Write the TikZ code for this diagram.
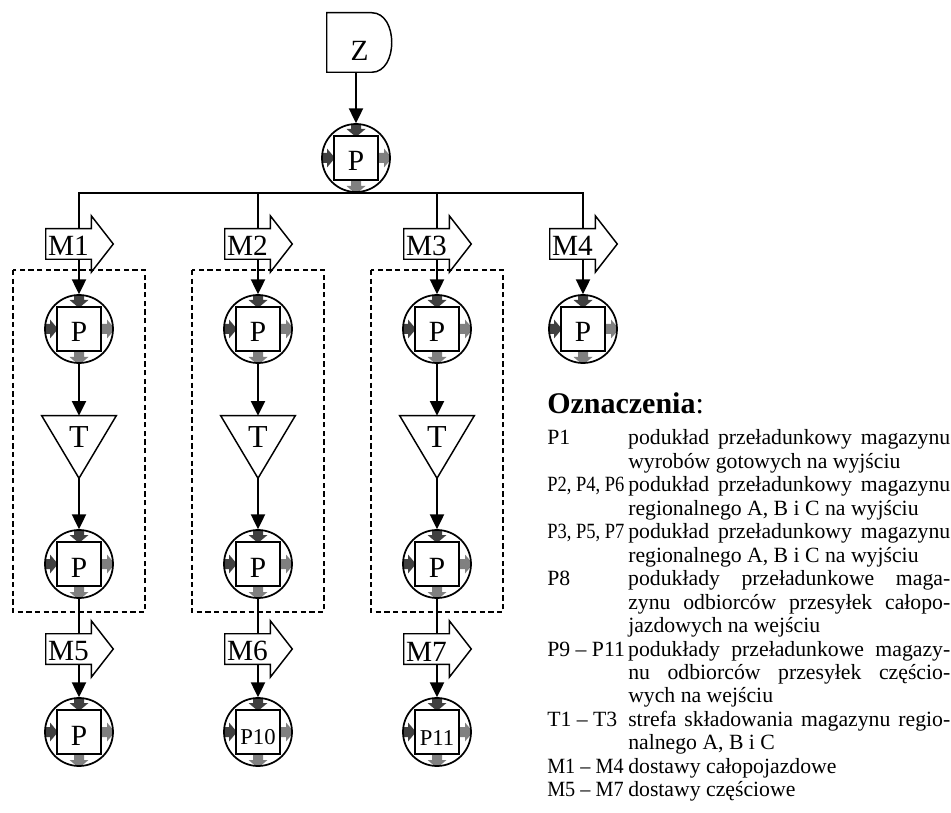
\documentclass[tikz,border=0pt]{standalone}
\usepackage{graphicx}
\usepackage{fontspec}
\setmainfont{Liberation Serif}
\usetikzlibrary{arrows.meta}
\definecolor{ingray}{RGB}{64,64,64}
\definecolor{outgray}{RGB}{128,128,128}
\newcommand{\bigfont}{\fontsize{22}{22}\selectfont}
\newcommand{\tfont}{\fontsize{24}{24}\selectfont}
\newcommand{\psmall}{\fontsize{17}{17}\selectfont}
\newcommand{\legfont}{\fontsize{16.3}{17.6}\selectfont}
\newcommand{\legkey}[1]{\makebox[60.75pt][l]{#1}}
\newcommand{\legline}[1]{\makebox[241.5pt][s]{#1}}

\tikzset{
  outline/.style={line width=1.1pt, line join=miter},
  flow/.style={line width=1.4pt, -{Triangle[width=10.5pt,length=11pt]}},
  bus/.style={line width=1pt},
  punkt/.style={circle, draw, line width=1.3pt, minimum size=51pt, inner sep=0pt,
    font=\bigfont, text height=19.5pt,
    path picture={
      \coordinate (c) at (path picture bounding box.center);
      % inputs
      \fill[ingray] ([shift={(-5,-40)}]c) -- ([shift={(5,-40)}]c) -- ([shift={(5,-29)}]c) -- ([shift={(9.5,-29)}]c)
        -- ([shift={(0,-21)}]c) -- ([shift={(-9.5,-29)}]c) -- ([shift={(-5,-29)}]c) -- cycle;
      \fill[ingray] ([shift={(-40,-5)}]c) -- ([shift={(-40,5)}]c) -- ([shift={(-29,5)}]c) -- ([shift={(-29,9.5)}]c)
        -- ([shift={(-21,0)}]c) -- ([shift={(-29,-9.5)}]c) -- ([shift={(-29,-5)}]c) -- cycle;
      % outputs
      \fill[outgray] ([shift={(22,-5)}]c) -- ([shift={(28,-5)}]c) -- ([shift={(28,-9.5)}]c) -- ([shift={(36,0)}]c)
        -- ([shift={(28,9.5)}]c) -- ([shift={(28,5)}]c) -- ([shift={(22,5)}]c) -- cycle;
      \fill[outgray] ([shift={(-5,22)}]c) -- ([shift={(-5,28)}]c) -- ([shift={(-9.5,28)}]c) -- ([shift={(0,36)}]c)
        -- ([shift={(9.5,28)}]c) -- ([shift={(5,28)}]c) -- ([shift={(5,22)}]c) -- cycle;
      \draw[line width=1.1pt] ([shift={(-22,-22)}]c) rectangle ([shift={(22,22)}]c);
    }},
  marrow/.style={rectangle, minimum width=33.75pt, minimum height=22.5pt, inner sep=0pt,
    font=\bigfont, text height=18pt},
  magaz/.style={rectangle, minimum width=55.5pt, minimum height=46.5pt, inner sep=0pt,
    font=\tfont, text height=15pt, text depth=15pt},
  zrodlo/.style={rectangle, minimum width=48.75pt, minimum height=44.25pt, inner sep=0pt,
    font=\bigfont, text height=27pt},
}

\begin{document}
\begin{tikzpicture}[x=0.75pt, y=-0.75pt]
\useasboundingbox (0,0) rectangle (951,813);

% Source and first transfer point
\node[zrodlo] (z) at (359.5,42.5) {Z};
\draw[outline] (z.north west) -- ++(45,0) .. controls +(26.7,0) and +(26.7,0) .. ([xshift=33.75pt]z.south west)
  -- (z.south west) -- cycle;
\node[punkt] (p0) at (356,158) {P};
\draw[flow] (p0 |- z.south) -- (p0);

% Regional warehouses
\foreach \i/\x/\mt/\mb/\pl in {1/79/M1/M5/P, 2/258/M2/M6/{\psmall P10}, 3/437/M3/M7/{\psmall P11}} {
    \draw[dashed, line width=0.8pt, dash pattern=on 4pt off 2.5pt] (\x-66,270) rectangle (\x+66,612);
    \node[marrow] (mt\i) at (\x-10.5,244) {\mt};
    \node[punkt] (pa\i) at (\x,329) {P};
    \node[magaz] (t\i) at (\x,447) {T};
    \node[punkt] (pb\i) at (\x,564) {P};
    \node[marrow] (mb\i) at (\x-10.5,649) {\mb};
    \node[punkt] (pc\i) at (\x,732) {\pl};
    \draw[outline] (mt\i.south west) -- (mt\i.north west) -- (mt\i.north east) -- ++(0,-13)
      -- ([xshift=16.5pt]mt\i.east) -- ([yshift=-9.75pt]mt\i.south east) -- (mt\i.south east) -- cycle;
    \draw[outline] (mb\i.south west) -- (mb\i.north west) -- (mb\i.north east) -- ++(0,-13)
      -- ([xshift=16.5pt]mb\i.east) -- ([yshift=-9.75pt]mb\i.south east) -- (mb\i.south east) -- cycle;
    \draw[outline] (t\i.north west) -- (t\i.north east) -- (t\i.south) -- cycle;
    \draw[bus] (p0.south) -| (mt\i.north -| pa\i);
    \draw[flow] (mt\i.south -| pa\i) -- (pa\i);
    \draw[flow] (pa\i) -- (t\i.north);
    \draw[flow] (t\i.south) -- (pb\i);
    \draw[outline] (pb\i) -- (mb\i.north -| pb\i);
    \draw[flow] (mb\i.south -| pc\i) -- (pc\i);
}

% Direct delivery
\node[marrow] (mt4) at (572.5,244) {M4};
\node[punkt] (pa4) at (583,329) {P};
\draw[outline] (mt4.south west) -- (mt4.north west) -- (mt4.north east) -- ++(0,-13)
  -- ([xshift=16.5pt]mt4.east) -- ([yshift=-9.75pt]mt4.south east) -- (mt4.south east) -- cycle;
\draw[bus] (p0.south) -| (mt4.north -| pa4);
\draw[flow] (mt4.south -| pa4) -- (pa4);

% Legend
\node[anchor=base west, inner sep=0pt, font=\fontsize{22.5}{24}\selectfont] (ozn) at (547,413) {\textbf{Oznaczenia}:};
\node[anchor=north west, inner sep=0pt, align=left, font=\legfont] (leg) at (547,429.5) {%
\legkey{P1}\legline{podukład przeładunkowy magazynu}\\
\legkey{}wyrobów gotowych na wyjściu\\
\legkey{\scalebox{0.85}[1]{P2, P4, P6}}\legline{podukład przeładunkowy magazynu}\\
\legkey{}regionalnego A, B i C na wyjściu\\
\legkey{\scalebox{0.85}[1]{P3, P5, P7}}\legline{podukład przeładunkowy magazynu}\\
\legkey{}regionalnego A, B i C na wyjściu\\
\legkey{P8}\legline{podukłady przeładunkowe maga-}\\
\legkey{}\legline{zynu odbiorców przesyłek całopo-}\\
\legkey{}jazdowych na wejściu\\
\legkey{P9 – P11}\legline{podukłady przeładunkowe magazy-}\\
\legkey{}\legline{nu odbiorców przesyłek częścio-}\\
\legkey{}wych na wejściu\\
\legkey{T1 – T3}\legline{strefa składowania magazynu regio-}\\
\legkey{}nalnego A, B i C\\
\legkey{\scalebox{0.93}[1]{M1 – M4}}dostawy całopojazdowe\\
\legkey{\scalebox{0.93}[1]{M5 – M7}}dostawy częściowe};
\end{tikzpicture}
\end{document}
